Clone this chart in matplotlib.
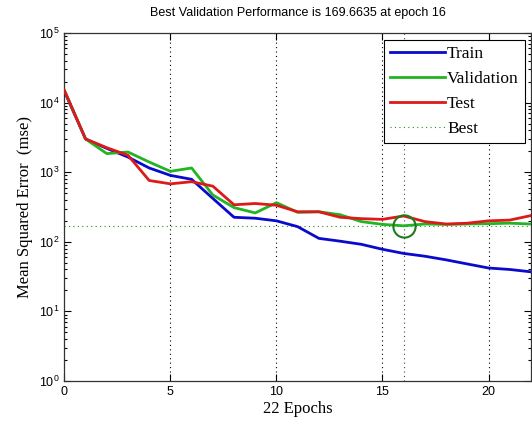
import numpy as np
import matplotlib
matplotlib.use("Agg")
import matplotlib.pyplot as plt
from matplotlib.ticker import LogLocator, FixedLocator

# 训练过程每个 epoch 的均方误差
epochs = list(range(0, 23))
train_mse = [14500, 3000, 2200, 1650, 1150, 900, 790, 420, 225, 218, 200,
             165, 112, 102, 92, 78, 68, 62, 55, 48, 42, 40, 37]
valid_mse = [15000, 3000, 1850, 1950, 1400, 1030, 1150, 470, 310, 260, 365,
             265, 270, 245, 195, 178, 169.6635, 180, 178, 180, 182, 185, 180]
test_mse = [15000, 3000, 2250, 1750, 760, 680, 730, 630, 340, 355, 335,
            270, 270, 225, 215, 210, 235, 195, 180, 185, 200, 205, 238]

best_epoch = 16
best_perf = 169.6635

fig = plt.figure(figsize=(5.32, 4.29), dpi=100)
ax = fig.add_axes([0.121, 0.112, 0.877, 0.811])

# 竖向网格线
for gx in [5, 10, 15, 20]:
    ax.axvline(gx, color="black", linestyle=(0, (1, 3)), linewidth=0.8, zorder=1)

ax.plot(epochs, train_mse, color="#0a0acc", linewidth=2, label="Train", zorder=3)
ax.plot(epochs, valid_mse, color="#22b422", linewidth=2, label="Validation", zorder=3)
ax.plot(epochs, test_mse, color="#dd1a1a", linewidth=2, label="Test", zorder=3)

# 最优点标记
ax.axvline(best_epoch, color="#3a4a3a", linestyle=(0, (1, 3)), linewidth=0.8, zorder=2)
ax.axhline(best_perf, color="#2a8a2a", linestyle=(0, (1, 3)), linewidth=0.8,
           label="Best", zorder=2)
ax.plot([best_epoch], [best_perf], marker="o", markersize=16, markerfacecolor="none",
        markeredgecolor="#1f7a1f", markeredgewidth=1.5, zorder=4)

ax.set_yscale("log")
ax.set_xlim(0, 22)
ax.set_ylim(1, 1e5)
ax.xaxis.set_major_locator(FixedLocator([0, 5, 10, 15, 20]))
ax.yaxis.set_major_locator(LogLocator(base=10, numticks=10))
ax.yaxis.set_minor_locator(LogLocator(base=10, subs=np.arange(2, 10), numticks=10))

ax.tick_params(which="both", direction="in", top=True, right=True,
               labelsize=9, width=0.8)
ax.tick_params(which="major", length=5)
ax.tick_params(which="minor", length=2.5)
ax.tick_params(axis="x", which="minor", top=False, bottom=False)
for lab in ax.get_xticklabels() + ax.get_yticklabels():
    lab.set_family("Liberation Sans")
for sp in ax.spines.values():
    sp.set_linewidth(0.9)
    sp.set_color("#333333")

ax.set_title("Best Validation Performance is 169.6635 at epoch 16",
             fontsize=9, family="Liberation Sans", pad=12)
ax.set_xlabel("22 Epochs", fontsize=12, family="Liberation Serif", labelpad=2)
ax.set_ylabel("Mean Squared Error  (mse)", fontsize=12, family="Liberation Serif",
              labelpad=4)

leg = ax.legend(loc="upper right", bbox_to_anchor=(0.987, 0.98), borderaxespad=0,
                prop={"family": "Liberation Serif", "size": 12.5},
                handlelength=3.2, handletextpad=0.1, labelspacing=0.5,
                borderpad=0.35, fancybox=False, framealpha=1)
leg.get_frame().set_edgecolor("black")
leg.get_frame().set_linewidth(0.8)

fig.savefig("out.png", dpi=100)
